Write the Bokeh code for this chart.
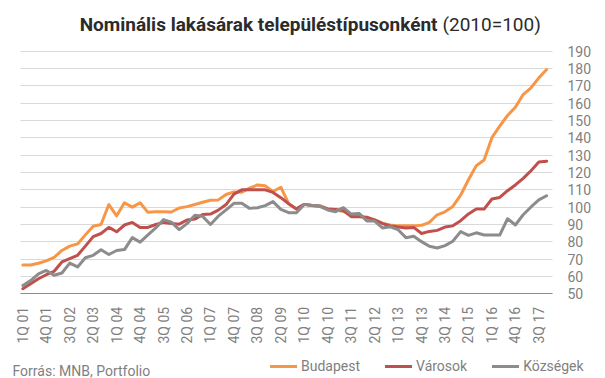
import math
from bokeh.plotting import figure
from bokeh.models import Range1d, FixedTicker, Label, Legend, LegendItem, LinearAxis
from bokeh.embed import file_html
from bokeh.resources import INLINE

# ---- data (2010 = 100), quarterly 1Q 01 .. 4Q 17 ----
budapest = [66.6, 66.6, 67.6, 69.0, 71.0, 75.0, 77.5, 78.8, 84.0, 89.0,
            90.0, 101.5, 95.0, 102.5, 100.0, 102.5, 97.0, 97.4, 97.4, 97.2,
            99.5, 100.3, 101.5, 102.8, 104.0, 104.2, 107.3, 108.8, 108.6, 111.0,
            112.8, 112.3, 109.0, 111.5, 102.0, 99.0, 101.6, 101.0, 100.5, 99.0,
            98.5, 97.5, 95.5, 96.0, 93.0, 92.6, 90.6, 89.7, 89.2, 89.2,
            89.2, 89.5, 91.2, 95.6, 97.3, 100.4, 106.9, 115.8, 123.9, 127.2,
            140.1, 146.8, 152.9, 157.7, 165.0, 168.9, 174.6, 179.4]
varosok = [52.9, 55.8, 58.7, 61.0, 63.0, 68.4, 70.3, 72.2, 77.5, 83.0,
           84.8, 88.3, 85.8, 89.7, 91.2, 88.3, 88.3, 90.0, 91.2, 90.6,
           90.2, 92.6, 93.1, 95.8, 96.0, 98.3, 101.5, 107.5, 110.0, 110.0,
           110.0, 110.0, 108.5, 105.5, 102.0, 99.0, 101.6, 101.0, 100.7, 99.0,
           98.7, 98.0, 94.5, 94.5, 94.2, 92.6, 90.6, 89.2, 88.5, 88.0,
           88.3, 84.8, 86.0, 86.6, 88.5, 89.2, 92.2, 96.1, 98.9, 98.9,
           104.7, 105.6, 109.5, 112.8, 116.6, 121.0, 126.0, 126.5]
kozsegek = [54.8, 57.6, 61.5, 63.5, 60.7, 62.0, 67.7, 65.5, 70.8, 72.2,
            75.4, 72.7, 75.0, 75.5, 82.4, 79.8, 84.0, 88.0, 92.8, 91.4,
            87.0, 90.5, 95.3, 94.7, 90.0, 94.8, 98.4, 102.2, 102.2, 99.3,
            99.7, 100.9, 103.2, 98.7, 96.8, 96.8, 101.6, 101.0, 100.5, 98.4,
            97.4, 99.7, 96.0, 96.4, 92.0, 92.0, 88.0, 88.7, 87.0, 82.4,
            83.2, 80.1, 77.4, 76.4, 77.8, 80.3, 85.9, 83.7, 85.2, 83.9,
            83.9, 83.9, 93.3, 89.7, 95.6, 100.1, 104.2, 106.6]

tick_labels = ["1Q 01", "4Q 01", "3Q 02", "2Q 03", "1Q 04", "4Q 04", "3Q 05",
               "2Q 06", "1Q 07", "4Q 07", "3Q 08", "2Q 09", "1Q 10", "4Q 10",
               "3Q 11", "2Q 12", "1Q 13", "4Q 13", "3Q 14", "2Q 15", "1Q 16",
               "4Q 16", "3Q 17"]
tick_every = 3
y_ticks = [50, 60, 70, 80, 90, 100, 110, 120, 130, 140, 150, 160, 170, 180, 190]

series_names = ["Budapest", "Városok", "Községek"]
series_colors = ["#F79646", "#C0504D", "#8C8C8C"]

title_bold = "Nominális lakásárak településtípusonként"
title_normal = "(2010=100)"
source_text = "Forrás: MNB, Portfolio"

FONT = "Roboto"
TXT = "#7F7F7F"

# ---- layout geometry (pixels inside the canvas) ----
W, H = 605, 378
PL, PR, PT, PB = 20, 552, 50.7, 293.3      # plot area edges in canvas px
xs0, xs1 = -0.3, len(budapest) - 1 + 0.75  # data x at plot left/right edge
ys0, ys1 = y_ticks[0], y_ticks[-1]
kx = (PR - PL) / (xs1 - xs0)
ky = (PB - PT) / (ys1 - ys0)

def cx(px):   # canvas px (from left) -> data x
    return xs0 + (px - PL) / kx

def cy(py):   # canvas px (from top) -> data y
    return ys0 + (PB - py) / ky

p = figure(width=W, height=H, output_backend="svg", toolbar_location=None,
           x_range=Range1d(cx(0), cx(W)), y_range=Range1d(cy(H), cy(0)),
           x_axis_location=None, y_axis_location=None,
           min_border=0, min_border_left=0, min_border_right=0,
           min_border_top=0, min_border_bottom=0)
p.outline_line_color = None
p.background_fill_color = "white"
p.border_fill_color = "white"
p.xgrid.visible = False
p.ygrid.visible = False

# y axis on the right; its inward ticks form the horizontal gridlines
yax = LinearAxis(fixed_location=xs1, bounds=(ys0, ys1), level="underlay")
yax.ticker = FixedTicker(ticks=y_ticks)
yax.axis_line_color = None
yax.major_tick_line_color = "#D9D9D9"
yax.major_tick_line_width = 1
yax.major_tick_in = PR - PL
yax.major_tick_out = 0
yax.minor_tick_line_color = None
yax.major_label_standoff = 15
yax.major_label_text_font = FONT
yax.major_label_text_font_size = "14px"
yax.major_label_text_color = TXT
p.add_layout(yax, "right")

x = list(range(len(budapest)))
renderers = []
for vals, col in zip([budapest, varosok, kozsegek], series_colors):
    r = p.line(x, vals, line_color=col, line_width=3, line_join="round", line_cap="round")
    renderers.append(r)

# x axis along y = 50
xt = [i * tick_every for i in range(len(tick_labels))]
xax = LinearAxis(fixed_location=ys0, bounds=(xs0, xs1))
xax.ticker = FixedTicker(ticks=xt)
xax.major_label_overrides = {t: lab for t, lab in zip(xt, tick_labels)}
xax.major_label_orientation = math.pi / 2
xax.axis_line_color = "#8C8C8C"
xax.axis_line_width = 1
xax.major_tick_line_color = None
xax.minor_tick_line_color = None
xax.major_tick_out = 0
xax.major_tick_in = 0
xax.major_label_standoff = 13
xax.major_label_text_font = FONT
xax.major_label_text_font_size = "14px"
xax.major_label_text_color = TXT
p.add_layout(xax, "below")

# title (two parts)
p.add_layout(Label(x=cx(437), y=cy(24), text=title_bold, text_font=FONT,
                   text_font_size="19px", text_font_style="bold",
                   text_color="#2B2B2B", text_align="right",
                   text_baseline="alphabetic"))
p.add_layout(Label(x=cx(442), y=cy(24), text=title_normal, text_font=FONT,
                   text_font_size="19px", text_color="#2B2B2B",
                   text_align="left", text_baseline="alphabetic"))

# source
p.add_layout(Label(x=cx(12), y=cy(370), text=source_text, text_font=FONT,
                   text_font_size="14px", text_color=TXT,
                   text_align="left", text_baseline="alphabetic"))

# legend
legend = Legend(items=[LegendItem(label=n, renderers=[r]) for n, r in zip(series_names, renderers)],
                orientation="horizontal", location=(270, 4),
                glyph_width=27, glyph_height=16, label_height=16,
                label_standoff=4, spacing=25, padding=0, margin=0,
                border_line_color=None, background_fill_alpha=0,
                label_text_font=FONT, label_text_font_size="14px",
                label_text_color=TXT)
p.add_layout(legend, "center")

open("out.html", "w").write(file_html(p, INLINE))
